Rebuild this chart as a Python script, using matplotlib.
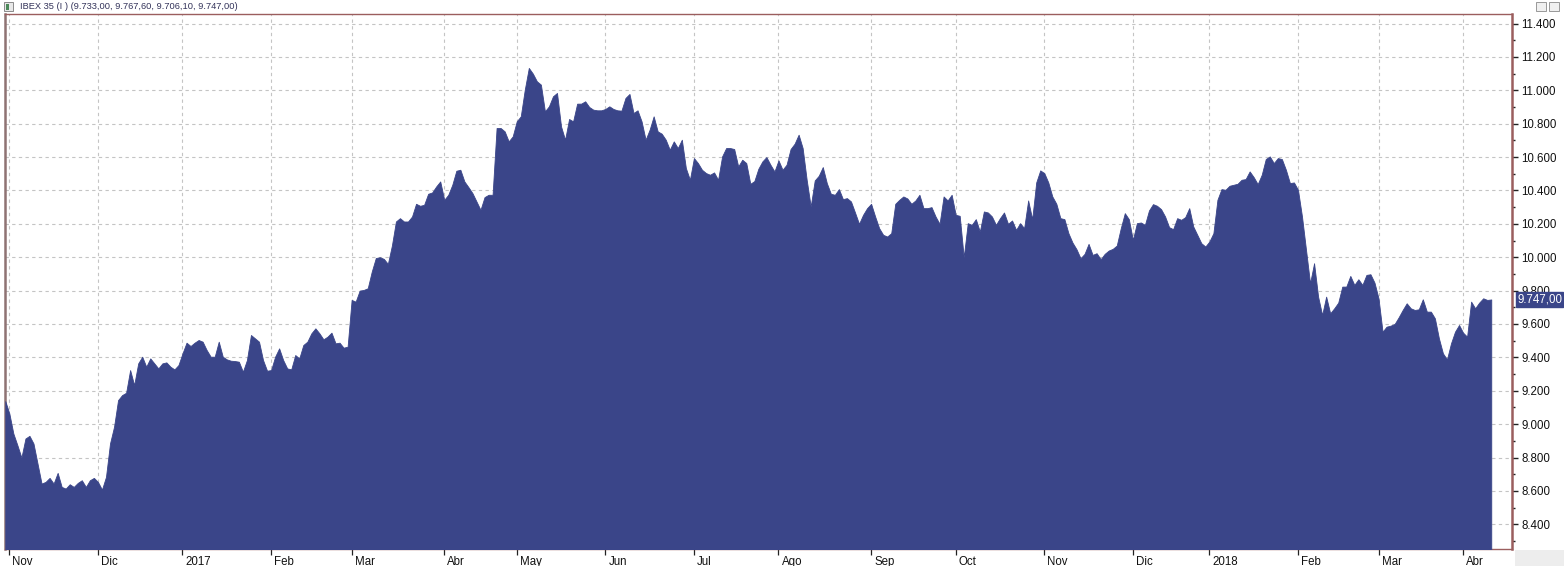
import numpy as np
import pandas as pd
import matplotlib
matplotlib.use("Agg")
import matplotlib.pyplot as plt
import matplotlib.transforms as mtransforms
from matplotlib.patches import Rectangle
from matplotlib.ticker import FixedLocator, FuncFormatter

# ---------------- data ----------------
title = "IBEX 35 (I ) (9.733,00, 9.767,60, 9.706,10, 9.747,00)"
last_label = "9.747,00"
last_value = 9747
start_date = "2016-10-31"
end_date = "2018-04-12"
market_holidays = ["2016-12-26", "2017-04-14", "2017-04-17", "2017-05-01",
                   "2017-12-25", "2017-12-26", "2018-01-01", "2018-03-30",
                   "2018-04-02"]
month_labels = ["Nov", "Dic", "2017", "Feb", "Mar", "Abr", "May", "Jun", "Jul",
                "Ago", "Sep", "Oct", "Nov", "Dic", "2018", "Feb", "Mar", "Abr"]
y_ticks = [8400, 8600, 8800, 9000, 9200, 9400, 9600, 9800, 10000, 10200,
           10400, 10600, 10800, 11000, 11200, 11400]
y_minor_ticks = list(range(8300, 11401, 100))

close_2016 = [
    9138, 9064, 8944, 8874, 8800, 8914, 8930, 8884, 8764, 8644,
    8654, 8678, 8644, 8708, 8624, 8614, 8640, 8624, 8648, 8664,
    8624, 8664, 8678, 8654, 8608, 8684, 8884, 8984, 9144, 9174,
    9188, 9324, 9234, 9364, 9404, 9344, 9394, 9364, 9334, 9364,
    9370, 9344, 9328, 9354,
]
close_2017 = [
    9424, 9488, 9468, 9488, 9504, 9494, 9444, 9404, 9404, 9494,
    9404, 9388, 9380, 9378, 9374, 9314, 9384, 9534, 9514, 9494,
    9384, 9320, 9324, 9404, 9454, 9384, 9334, 9328, 9414, 9394,
    9474, 9494, 9544, 9574, 9544, 9508, 9524, 9548, 9484, 9488,
    9458, 9464, 9744, 9734, 9800, 9804, 9814, 9914, 9995, 10000,
    9990, 9960, 10070, 10214, 10234, 10214, 10214, 10244, 10320, 10308,
    10314, 10380, 10388, 10424, 10454, 10344, 10374, 10434, 10518, 10524,
    10454, 10420, 10384, 10334, 10284, 10360, 10374, 10374, 10774, 10774,
    10754, 10694, 10724, 10814, 10844, 11004, 11134, 11100, 11054, 11034,
    10874, 10904, 10964, 10984, 10784, 10704, 10828, 10814, 10920, 10920,
    10934, 10900, 10884, 10880, 10880, 10888, 10904, 10888, 10880, 10878,
    10954, 10978, 10864, 10880, 10814, 10704, 10764, 10844, 10754, 10740,
    10704, 10644, 10694, 10654, 10704, 10534, 10464, 10594, 10564, 10524,
    10504, 10494, 10508, 10464, 10604, 10654, 10654, 10648, 10544, 10584,
    10564, 10440, 10456, 10530, 10574, 10600, 10554, 10514, 10580, 10524,
    10554, 10648, 10680, 10734, 10654, 10464, 10304, 10460, 10488, 10540,
    10444, 10380, 10374, 10408, 10348, 10354, 10334, 10268, 10200, 10254,
    10294, 10320, 10244, 10174, 10134, 10124, 10144, 10320, 10344, 10364,
    10352, 10320, 10340, 10374, 10294, 10294, 10300, 10244, 10200, 10364,
    10340, 10374, 10254, 10248, 10000, 10204, 10194, 10228, 10154, 10274,
    10268, 10244, 10194, 10234, 10268, 10200, 10220, 10164, 10204, 10174,
    10340, 10228, 10448, 10520, 10504, 10448, 10364, 10320, 10234, 10228,
    10144, 10088, 10048, 9994, 10020, 10080, 10014, 10024, 9988, 10020,
    10040, 10050, 10070, 10174, 10264, 10228, 10104, 10204, 10208, 10194,
    10280, 10318, 10308, 10288, 10244, 10180, 10168, 10234, 10224, 10240,
    10294, 10184, 10134, 10084, 10064,
]
close_2018 = [
    10094, 10144, 10344, 10408, 10404, 10428, 10434, 10440, 10464, 10468,
    10514, 10480, 10438, 10494, 10588, 10604, 10564, 10594, 10588, 10524,
    10444, 10448, 10404, 10244, 10044, 9844, 9964, 9764, 9654, 9764,
    9664, 9694, 9728, 9824, 9824, 9888, 9834, 9868, 9834, 9894,
    9898, 9848, 9754, 9554, 9584, 9590, 9600, 9640, 9684, 9724,
    9694, 9684, 9688, 9748, 9674, 9674, 9634, 9514, 9424, 9388,
    9484, 9554, 9594, 9548, 9524, 9734, 9694, 9728, 9754, 9744,
    9747,
]
close = close_2016 + close_2017 + close_2018

# ---------------- layout ----------------
W, H = 1564, 566
fill_color = "#3A4589"
frame_color = "#9B5E5E"
grid_color = "#C4C4C4"
font = ["Liberation Sans", "DejaVu Sans"]
plt.rcParams["font.family"] = font

dates = pd.bdate_range(start_date, end_date, freq="C", holidays=market_holidays)
n = min(len(dates), len(close))
dates = dates[:n]
values = np.array(close[:n], dtype=float)
x = np.arange(n)

# first trading day of each month
month_key = dates.year * 12 + dates.month
first_idx = [i for i in range(n) if i > 0 and month_key[i] != month_key[i - 1]]
tick_pos = first_idx[:len(month_labels)]

fig = plt.figure(figsize=(W / 100, H / 100), dpi=100)
fig.patch.set_facecolor("white")
ax = fig.add_axes([5 / W, (H - 549) / H, (1512 - 5) / W, (549 - 14) / H])
ax.set_facecolor("white")

ymin, ymax = 8252, 11457
ax.set_xlim(-0.075, 374.15)
ax.set_ylim(ymin, ymax)

ax.fill_between(x, values, ymin - 100, color=fill_color, linewidth=0.6,
                edgecolor=fill_color, zorder=3)

# grid
ax.set_xticks(tick_pos)
ax.set_xticklabels(month_labels[:len(tick_pos)])
ax.yaxis.set_major_locator(FixedLocator(y_ticks))
ax.yaxis.set_minor_locator(FixedLocator(y_minor_ticks))
ax.yaxis.set_major_formatter(FuncFormatter(lambda v, p: f"{v:,.0f}".replace(",", ".")))
ax.grid(True, which="major", color=grid_color, linestyle=(0, (3, 3)),
        linewidth=0.8, zorder=1)

ax.yaxis.tick_right()
ax.tick_params(axis="y", which="major", direction="out", length=4.5, width=1,
               color="#222222", pad=2, labelsize=8.3, labelcolor="#111111")
ax.tick_params(axis="y", which="minor", direction="out", length=2.5, width=1,
               color="#222222")
ax.tick_params(axis="x", which="major", direction="out", length=4.2, width=0.9,
               color="#222222", pad=0.5, labelsize=8.3, labelcolor="#111111")
offset = mtransforms.ScaledTranslation(3 / 100, 0, fig.dpi_scale_trans)
for lab in ax.get_xticklabels():
    lab.set_horizontalalignment("left")
    lab.set_transform(lab.get_transform() + offset)

for side, sp in ax.spines.items():
    sp.set_color(frame_color)
    sp.set_linewidth(1.0)
ax.spines["right"].set_linewidth(1.8)
ax.spines["left"].set_linewidth(1.8)
ax.spines["left"].set_color("#8E7373")

# last value label on the right axis
trans = mtransforms.blended_transform_factory(ax.transAxes, ax.transData)
lab_off = mtransforms.ScaledTranslation(5 / 100, 0, fig.dpi_scale_trans)
ax.text(1.0, last_value, last_label, transform=trans + lab_off, ha="left",
        va="center", fontsize=8.3, color="white", zorder=6, clip_on=False,
        bbox=dict(boxstyle="square,pad=0.12", facecolor=fill_color,
                  edgecolor=fill_color))

# header
fig.text(20 / W, 1 - 6.5 / H, title, fontsize=6.7, color="#33335A",
         ha="left", va="center")
fig.patches.append(Rectangle((4 / W, 1 - 11 / H), 9 / W, 9 / H,
                             transform=fig.transFigure, facecolor="#E8E8E8",
                             edgecolor="#7A7A7A", linewidth=0.6))
fig.patches.append(Rectangle((6 / W, 1 - 9.5 / H), 3 / W, 6 / H,
                             transform=fig.transFigure, facecolor="#4C8A5A",
                             edgecolor="none"))
for bx in (1536, 1549):
    fig.patches.append(Rectangle((bx / W, 1 - 11 / H), 10 / W, 9 / H,
                                 transform=fig.transFigure,
                                 facecolor="#F0F0F0", edgecolor="#8A8A8A",
                                 linewidth=0.6))
# bottom-right corner box
fig.patches.append(Rectangle((1515 / W, 0), (W - 1515) / W, (H - 550) / H,
                             transform=fig.transFigure, facecolor="#EDEDED",
                             edgecolor="none"))

fig.savefig("out.png", dpi=100, facecolor="white")
